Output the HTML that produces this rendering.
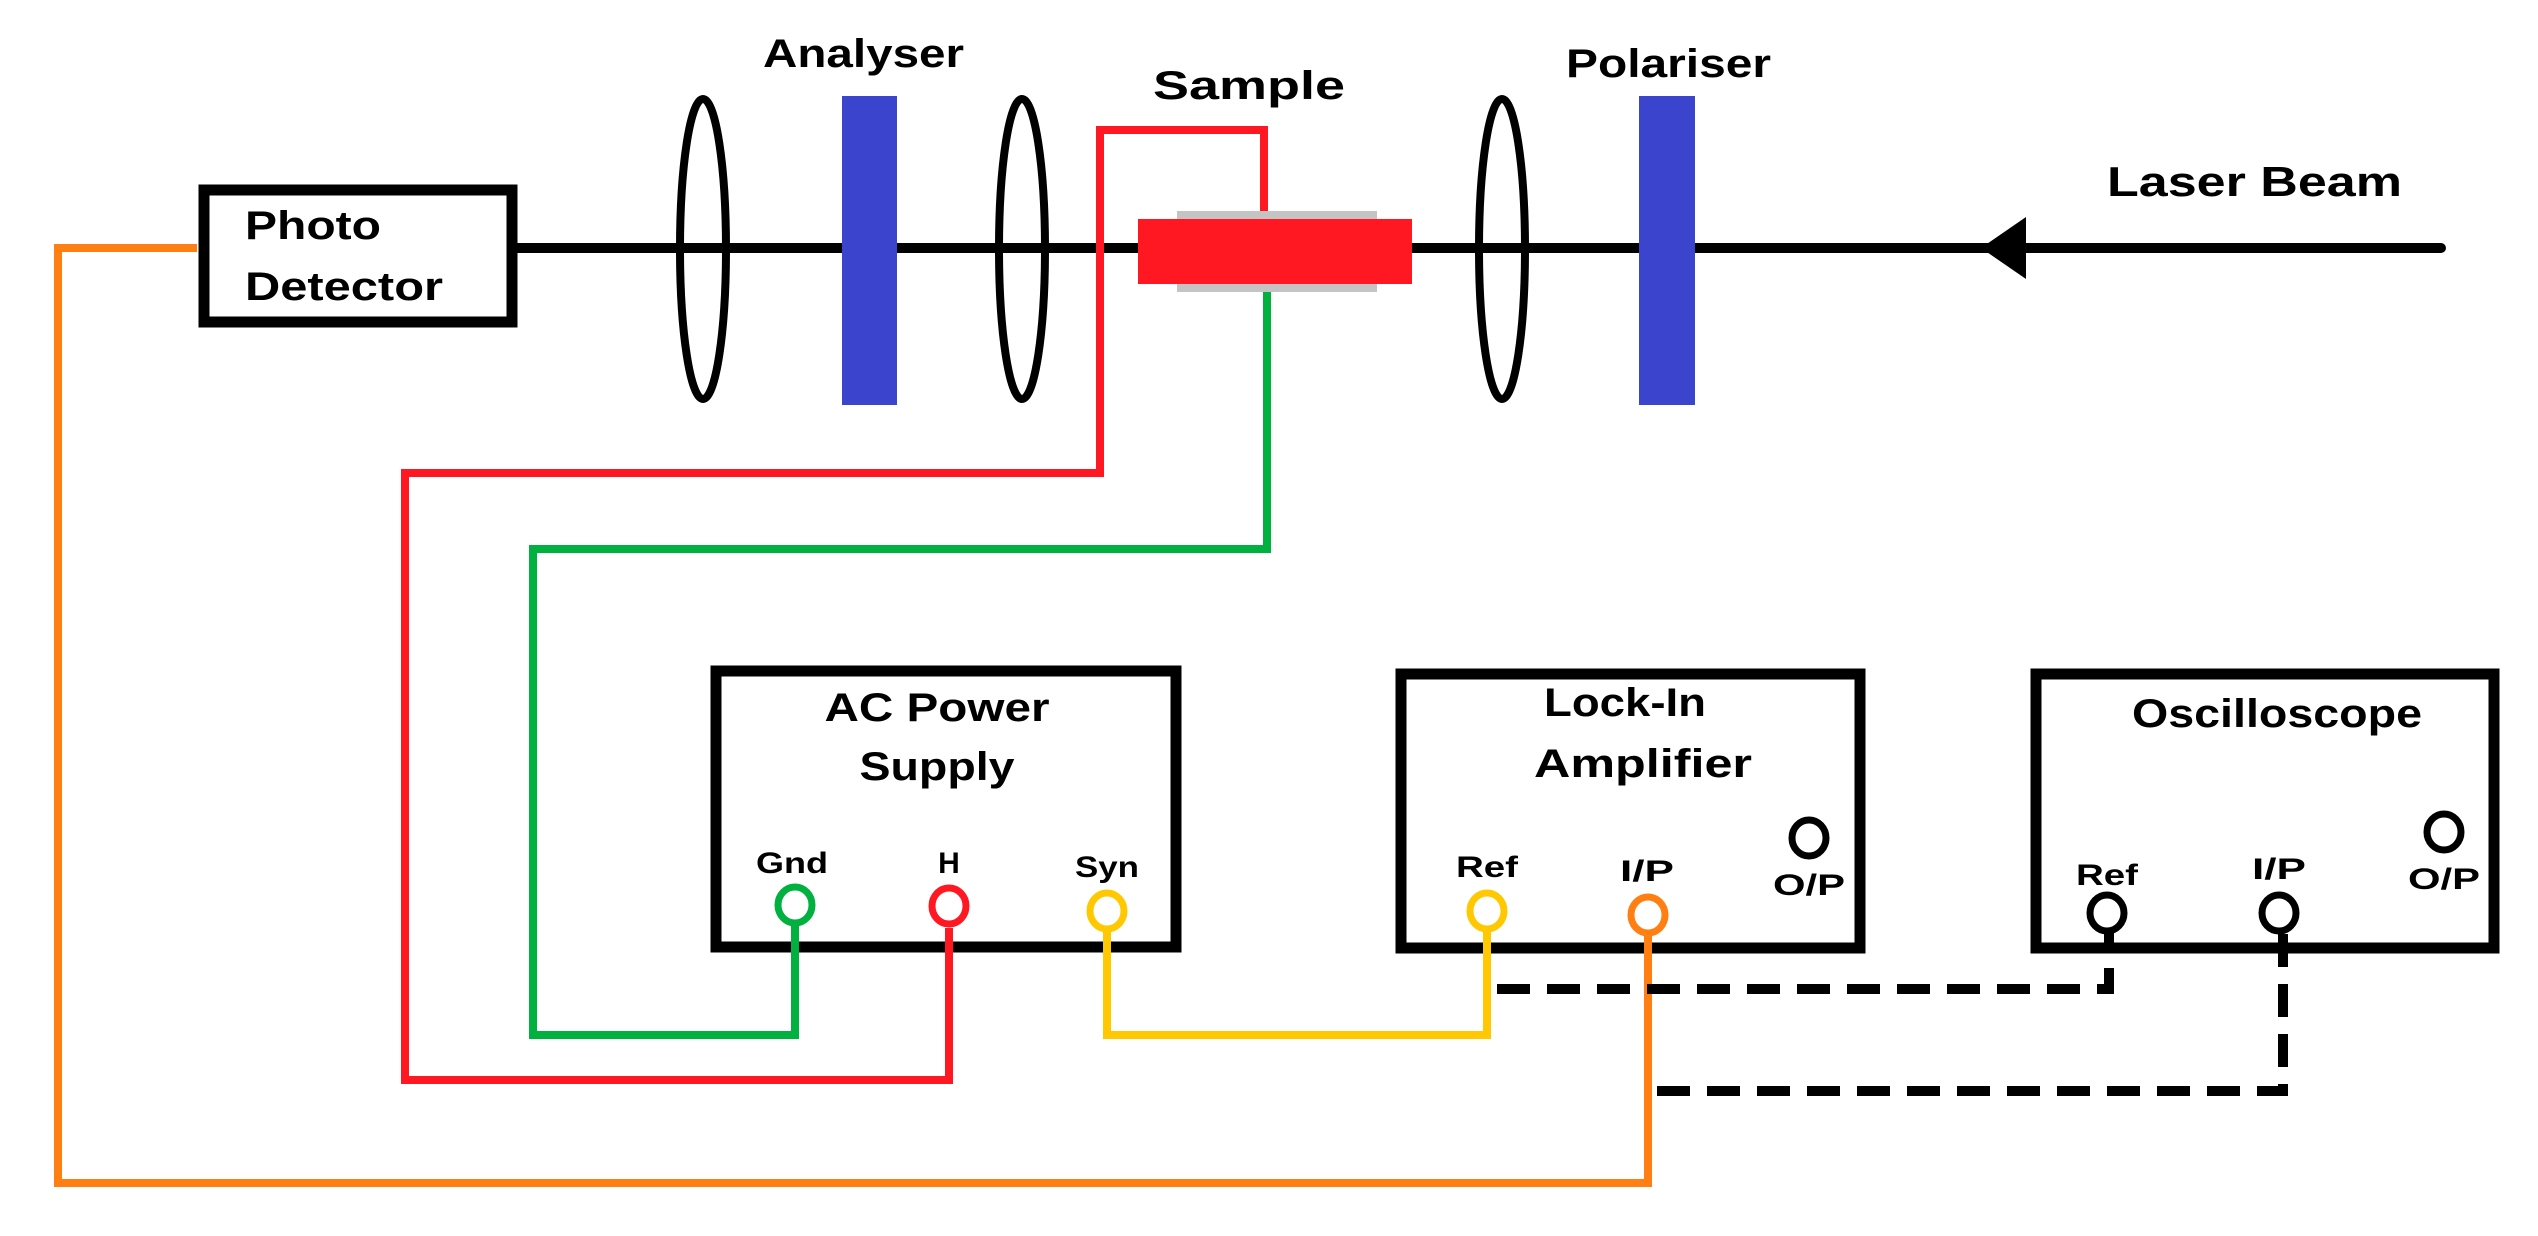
<!DOCTYPE html>
<html><head><meta charset="utf-8"><style>html,body{margin:0;padding:0;background:#fff}svg{display:block}</style></head>
<body>
<svg width="2538" height="1236" viewBox="0 0 2538 1236" xmlns="http://www.w3.org/2000/svg" font-family="Liberation Sans, sans-serif" font-weight="bold" fill="#000">
<!-- beam -->
<line x1="515" y1="248" x2="2441" y2="248" stroke="#000" stroke-width="10" stroke-linecap="round"/>
<polygon points="1981,248 2026,217 2026,279" fill="#000"/>
<!-- lenses -->
<ellipse cx="703" cy="249" rx="23" ry="150" fill="none" stroke="#000" stroke-width="8"/>
<ellipse cx="1022" cy="249" rx="23" ry="150" fill="none" stroke="#000" stroke-width="8"/>
<ellipse cx="1502" cy="249" rx="23" ry="150" fill="none" stroke="#000" stroke-width="8"/>
<!-- polarisers -->
<rect x="842" y="96" width="55" height="309" fill="#3a44cc"/>
<rect x="1639" y="96" width="56" height="309" fill="#3a44cc"/>
<!-- sample -->
<rect x="1177" y="211" width="200" height="81" fill="#c4c4c4"/>
<rect x="1138" y="219" width="274" height="65" fill="#ff1822"/>
<!-- photo detector -->
<rect x="204" y="190" width="308" height="132" fill="#fff" stroke="#000" stroke-width="11"/>
<text x="245" y="239" font-size="40" textLength="136" lengthAdjust="spacingAndGlyphs">Photo</text>
<text x="245" y="300" font-size="40" textLength="198" lengthAdjust="spacingAndGlyphs">Detector</text>
<!-- top labels -->
<text x="763" y="67" font-size="40" textLength="201" lengthAdjust="spacingAndGlyphs">Analyser</text>
<text x="1153" y="99" font-size="40" textLength="192" lengthAdjust="spacingAndGlyphs">Sample</text>
<text x="1566" y="77" font-size="40" textLength="205" lengthAdjust="spacingAndGlyphs">Polariser</text>
<text x="2107" y="196" font-size="42" textLength="295" lengthAdjust="spacingAndGlyphs">Laser Beam</text>
<!-- wires -->
<g fill="none" stroke-width="8" stroke-linejoin="miter">
<polyline points="1264,211 1264,130 1100,130 1100,473 405,473 405,1080 949,1080 949,928" stroke="#ff1822"/>
<polyline points="1267,292 1267,549 533,549 533,1035 795,1035 795,922" stroke="#00b140"/>
<polyline points="1107,928 1107,1035 1487,1035 1487,928" stroke="#ffc800"/>
<polyline points="197,248 58,248 58,1183 1648,1183 1648,932" stroke="#ff7f13"/>
</g>
<!-- boxes -->
<rect x="716" y="671" width="460" height="276" fill="none" stroke="#000" stroke-width="11"/>
<rect x="1401" y="674" width="459" height="274" fill="none" stroke="#000" stroke-width="11"/>
<rect x="2036" y="674" width="458" height="274" fill="none" stroke="#000" stroke-width="11"/>
<g stroke-width="8">
<line x1="795" y1="922" x2="795" y2="960" stroke="#00b140"/>
<line x1="949" y1="928" x2="949" y2="960" stroke="#ff1822"/>
<line x1="1107" y1="928" x2="1107" y2="960" stroke="#ffc800"/>
<line x1="1487" y1="928" x2="1487" y2="960" stroke="#ffc800"/>
<line x1="1648" y1="932" x2="1648" y2="960" stroke="#ff7f13"/>
</g>
<!-- box labels -->
<g font-size="40" text-anchor="middle">
<text x="937" y="721" textLength="225" lengthAdjust="spacingAndGlyphs">AC Power</text>
<text x="937" y="780" textLength="155" lengthAdjust="spacingAndGlyphs">Supply</text>
<text x="1625" y="716" textLength="162" lengthAdjust="spacingAndGlyphs">Lock-In</text>
<text x="1643" y="777" textLength="218" lengthAdjust="spacingAndGlyphs">Amplifier</text>
<text x="2277" y="727" textLength="290" lengthAdjust="spacingAndGlyphs">Oscilloscope</text>
</g>
<g font-size="30" text-anchor="middle">
<text x="792" y="873" textLength="72" lengthAdjust="spacingAndGlyphs">Gnd</text>
<text x="949" y="873">H</text>
<text x="1107" y="877" textLength="64" lengthAdjust="spacingAndGlyphs">Syn</text>
<text x="1487" y="877" textLength="62" lengthAdjust="spacingAndGlyphs">Ref</text>
<text x="1647" y="881" textLength="54" lengthAdjust="spacingAndGlyphs">I/P</text>
<text x="1809" y="895" textLength="72" lengthAdjust="spacingAndGlyphs">O/P</text>
<text x="2107" y="885" textLength="62" lengthAdjust="spacingAndGlyphs">Ref</text>
<text x="2279" y="879" textLength="54" lengthAdjust="spacingAndGlyphs">I/P</text>
<text x="2444" y="889" textLength="72" lengthAdjust="spacingAndGlyphs">O/P</text>
</g>
<!-- connectors -->
<g fill="#fff" stroke-width="7">
<ellipse cx="795" cy="905" rx="17" ry="18" stroke="#00b140"/>
<ellipse cx="949" cy="906" rx="17" ry="18" stroke="#ff1822"/>
<ellipse cx="1107" cy="911" rx="17" ry="18" stroke="#ffc800"/>
<ellipse cx="1487" cy="911" rx="17" ry="18" stroke="#ffc800"/>
<ellipse cx="1648" cy="915" rx="17" ry="18" stroke="#ff7f13"/>
<ellipse cx="1809" cy="838" rx="17" ry="18" stroke="#000"/>
<ellipse cx="2107" cy="913" rx="17" ry="18" stroke="#000"/>
<ellipse cx="2279" cy="913" rx="17" ry="18" stroke="#000"/>
<ellipse cx="2444" cy="832" rx="17" ry="18" stroke="#000"/>
</g>
<!-- dashed -->
<g fill="none" stroke="#000" stroke-width="10" stroke-dasharray="33,17">
<polyline points="1497,989 2109,989 2109,931"/>
<polyline points="1657,1091 2283,1091 2283,931"/>
</g>
</svg>
</body></html>
